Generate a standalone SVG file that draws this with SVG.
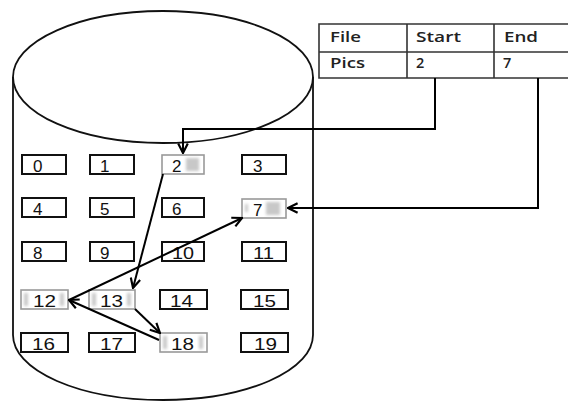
<svg xmlns="http://www.w3.org/2000/svg" width="568" height="402" viewBox="0 0 568 402">
<style>
.cyl{fill:none;stroke:#111;stroke-width:1.8}
.tbl{fill:none;stroke:#333;stroke-width:1.6}
.tt{font-family:"Open Sans","Liberation Sans",sans-serif;font-size:14.5px;font-weight:600;fill:#222}
.box{fill:#fff;stroke:#111;stroke-width:2}
.hbox{fill:#fff;stroke:#999;stroke-width:1.6}
.num{font-family:"Liberation Sans",Arial,sans-serif;font-size:17px;fill:#111}
.patch{fill:#c8c8c8;filter:url(#blur)}
.con{fill:none;stroke:#000;stroke-width:2}
</style>
<defs>
<filter id="blur" x="-50%" y="-50%" width="200%" height="200%"><feGaussianBlur stdDeviation="1.5"/></filter>
<marker id="arr" markerUnits="userSpaceOnUse" viewBox="0 0 10 10" markerWidth="12" markerHeight="12" refX="9" refY="5" orient="auto">
<path d="M1,1 L9,5 L1,9" fill="none" stroke="#000" stroke-width="1.8"/>
</marker>
</defs>
<rect width="568" height="402" fill="#fff"/>
<g id="cylinder">
<path class="cyl" d="M13,77 A150,66 0 0,1 313,77 A150,66 0 0,1 13,77 Z"/>
<path class="cyl" d="M13,77 L13,335 A150,65 0 0,0 313,335 L313,77"/>
</g>
<g id="table">
<path class="tbl" d="M568,24 H319 V78 H568 M319,52 H568 M407,24 V78 M494,24 V78"/>
<text class="tt" x="330" y="42" textLength="31" lengthAdjust="spacingAndGlyphs">File</text>
<text class="tt" x="416" y="42" textLength="45" lengthAdjust="spacingAndGlyphs">Start</text>
<text class="tt" x="504" y="42" textLength="34" lengthAdjust="spacingAndGlyphs">End</text>
<text class="tt" x="330" y="68" textLength="35" lengthAdjust="spacingAndGlyphs">Pics</text>
<text class="tt" x="416" y="68">2</text>
<text class="tt" x="503" y="68">7</text>
</g>
<g id="b0"><rect class="box" x="22" y="155" width="44" height="19"/><text class="num" x="33" y="172">0</text></g>
<g id="b1"><rect class="box" x="90" y="155" width="44" height="19"/><text class="num" x="100" y="172">1</text></g>
<g id="b2"><rect class="hbox" x="162" y="155" width="42" height="19"/><rect class="patch" x="186" y="158" width="13" height="13"/><text class="num" x="172" y="172">2</text></g>
<g id="b3"><rect class="box" x="242" y="155" width="44" height="19"/><text class="num" x="253" y="172">3</text></g>
<g id="b4"><rect class="box" x="22" y="198" width="44" height="19"/><text class="num" x="33" y="215">4</text></g>
<g id="b5"><rect class="box" x="90" y="198" width="44" height="19"/><text class="num" x="100" y="215">5</text></g>
<g id="b6"><rect class="box" x="162" y="198" width="42" height="19"/><text class="num" x="172" y="215">6</text></g>
<g id="b7"><rect class="hbox" x="242" y="199" width="44" height="19"/><rect class="patch" x="266" y="202" width="14" height="13"/><rect class="patch" x="245" y="204" width="3" height="8"/><text class="num" x="253" y="216">7</text></g>
<g id="b8"><rect class="box" x="22" y="242" width="44" height="19"/><text class="num" x="33" y="259">8</text></g>
<g id="b9"><rect class="box" x="90" y="242" width="44" height="19"/><text class="num" x="100" y="259">9</text></g>
<g id="b10"><rect class="box" x="162" y="242" width="42" height="19"/><text class="num" x="172" y="259" textLength="22" lengthAdjust="spacingAndGlyphs">10</text></g>
<g id="b11"><rect class="box" x="242" y="242" width="44" height="19"/><text class="num" x="253" y="259" textLength="21" lengthAdjust="spacingAndGlyphs">11</text></g>
<g id="b12"><rect class="hbox" x="21" y="290" width="47" height="19"/><rect class="patch" x="24" y="293" width="4" height="13"/><rect class="patch" x="60" y="293" width="4" height="13"/><text class="num" x="33" y="307" textLength="23" lengthAdjust="spacingAndGlyphs">12</text></g>
<g id="b13"><rect class="hbox" x="89" y="290" width="46" height="19"/><rect class="patch" x="92" y="293" width="4" height="13"/><rect class="patch" x="127" y="293" width="4" height="13"/><text class="num" x="100" y="307" textLength="23" lengthAdjust="spacingAndGlyphs">13</text></g>
<g id="b14"><rect class="box" x="160" y="290" width="47" height="19"/><text class="num" x="170" y="307" textLength="23" lengthAdjust="spacingAndGlyphs">14</text></g>
<g id="b15"><rect class="box" x="241" y="290" width="47" height="19"/><text class="num" x="253" y="307" textLength="23" lengthAdjust="spacingAndGlyphs">15</text></g>
<g id="b16"><rect class="box" x="21" y="333" width="47" height="19"/><text class="num" x="32" y="350" textLength="23" lengthAdjust="spacingAndGlyphs">16</text></g>
<g id="b17"><rect class="box" x="89" y="333" width="46" height="19"/><text class="num" x="100" y="350" textLength="23" lengthAdjust="spacingAndGlyphs">17</text></g>
<g id="b18"><rect class="hbox" x="160" y="333" width="47" height="19"/><rect class="patch" x="163" y="336" width="4" height="13"/><rect class="patch" x="199" y="336" width="4" height="13"/><text class="num" x="171" y="350" textLength="23" lengthAdjust="spacingAndGlyphs">18</text></g>
<g id="b19"><rect class="box" x="241" y="333" width="47" height="19"/><text class="num" x="254" y="350" textLength="23" lengthAdjust="spacingAndGlyphs">19</text></g>
<g id="connectors">
<path class="con" d="M435,78 V129 H183 V153" marker-end="url(#arr)"/>
<path class="con" d="M538,78 V208 H288" marker-end="url(#arr)"/>
<path class="con" d="M163,174 L133,288" marker-end="url(#arr)"/>
<path class="con" d="M135,309 L160,333" marker-end="url(#arr)"/>
<path class="con" d="M159,340 L69,300" marker-end="url(#arr)"/>
<path class="con" d="M69,300 L242,218" marker-end="url(#arr)"/>
</g>
</svg>
